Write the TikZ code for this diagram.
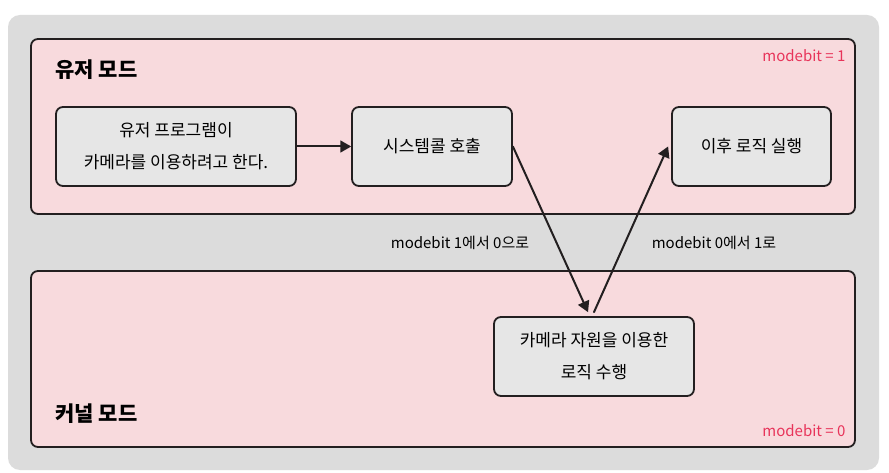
\documentclass[tikz,border=0pt]{standalone}
\usepackage{fontspec}
\setmainfont{Noto Sans CJK KR}
\usepackage{tikz}
\usetikzlibrary{arrows}
\definecolor{bggray}{HTML}{DCDCDC}
\definecolor{modepink}{HTML}{F8DADD}
\definecolor{boxgray}{HTML}{E6E6E6}
\definecolor{bitred}{HTML}{E8345A}
\definecolor{ink}{HTML}{231F20}
\tikzset{
  modebox/.style={draw=ink, line width=1.8pt, fill=modepink, rounded corners=7pt},
  stepbox/.style={draw=ink, line width=1.8pt, fill=boxgray, rounded corners=7pt,
    minimum height=79pt, align=center, font=\fontsize{17}{32}\selectfont, inner sep=0pt},
  modetitle/.style={font=\fontsize{21}{24}\selectfont\bfseries, anchor=west},
  bitlabel/.style={text=bitred, font=\fontsize{15}{17}\selectfont, anchor=east},
  edgelabel/.style={font=\fontsize{15}{17}\selectfont}
}
\begin{document}
\begin{tikzpicture}[line cap=round,line join=round,>=triangle 60,x=1pt,y=-1pt]
      \useasboundingbox[fill=white] (0,0) rectangle (889,473);
      \fill[bggray, rounded corners=12pt] (8,15) rectangle (879,470);
      % modes
      \draw[modebox] (31,39) rectangle (855,214);
      \draw[modebox] (31,271) rectangle (855,447);
      \node[modetitle] (usertitle) at (52,70) {유저 모드};
      \node[modetitle] (kerneltitle) at (52,414) {커널 모드};
      \node[bitlabel] (bitone) at (849,56) {modebit = 1};
      \node[bitlabel] (bitzero) at (849,431) {modebit = 0};
      % steps
      \node[stepbox, minimum width=240pt] (program) at (176,146.5) {유저 프로그램이\\카메라를 이용하려고 한다.};
      \node[stepbox, minimum width=160pt] (syscall) at (432,146.5) {시스템콜 호출};
      \node[stepbox, minimum width=159pt] (after) at (751.5,146.5) {이후 로직 실행};
      \node[stepbox, minimum width=200pt] (camera) at (594,356.5) {카메라 자원을 이용한\\로직 수행};
      % transitions
      \draw[->, line width=2pt, color=ink] (program.east) -- (syscall.west);
      \draw[->, line width=2pt, color=ink] (syscall.east) -- ([xshift=-6pt,yshift=4pt]camera.north);
      \draw[->, line width=2pt, color=ink] ([yshift=4pt]camera.north) -- ([xshift=-3pt]after.west);
      \node[edgelabel] (tozero) at (460,243) {modebit 1에서 0으로};
      \node[edgelabel] (toone) at (714,243) {modebit 0에서 1로};
    \end{tikzpicture}
\end{document}
